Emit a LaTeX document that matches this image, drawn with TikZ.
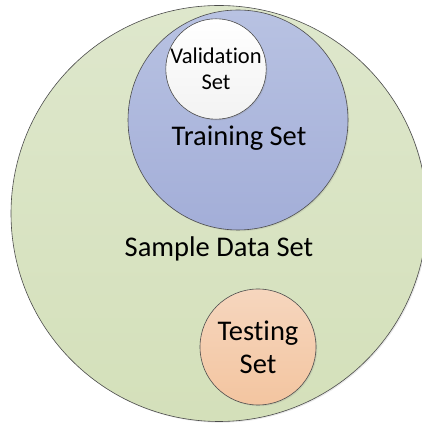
\documentclass[tikz,border=0pt]{standalone}
\usepackage{fontspec}
\setmainfont{Carlito}[Ligatures=NoCommon]
\usetikzlibrary{positioning,shadows}
\definecolor{sampletop}{RGB}{222,231,204}
\definecolor{samplebot}{RGB}{212,224,186}
\definecolor{traintop}{RGB}{184,194,226}
\definecolor{trainbot}{RGB}{163,174,216}
\definecolor{testtop}{RGB}{246,214,190}
\definecolor{testbot}{RGB}{243,197,160}
\tikzset{
    setcircle/.style={circle, draw=black!70, line width=0.6pt, inner sep=0pt,
        align=center, drop shadow={opacity=0.18, shadow xshift=1.2pt, shadow yshift=-1.2pt}},
    biglabel/.style={align=center, font=\fontsize{28.5}{33}\selectfont},
    smalllabel/.style={align=center, font=\fontsize{22.5}{26}\selectfont}
}

\begin{document}
\begin{tikzpicture}[x=1pt, y=1pt]
\useasboundingbox (0,0) rectangle (421,425);
\node[setcircle, minimum size=416pt, top color=sampletop, bottom color=samplebot] (sample) at (219,211.5) {};
\node[setcircle, minimum size=220pt, top color=traintop, bottom color=trainbot] (train) at (238,305) {};
\node[setcircle, minimum size=100pt, top color=white, bottom color=black!5, smalllabel] (valid) at (216,356) {Validation\\Set};
\node[setcircle, minimum size=116pt, top color=testtop, bottom color=testbot, biglabel] (test) at (258,78) {Testing\\Set};
\node[biglabel] (trainlabel) at (239,287) {Training Set};
\node[biglabel] (samplelabel) at (219,176) {Sample Data Set};
\end{tikzpicture}
\end{document}
